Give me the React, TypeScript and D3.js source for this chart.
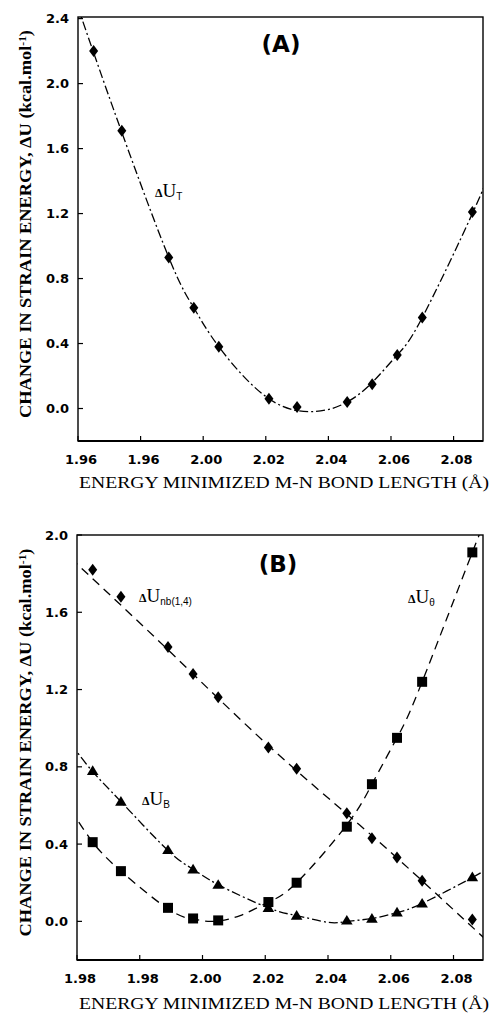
import React, { useEffect, useRef } from 'react';
import * as d3 from 'd3';

// bond lengths (Å) of the computed points, same in both panels
const bondLength = [1.965, 1.974, 1.989, 1.997, 2.005, 2.021, 2.030, 2.046, 2.054, 2.062, 2.070, 2.086];

// panel A - total strain energy
const uTotal = [2.20, 1.71, 0.93, 0.62, 0.38, 0.06, 0.01, 0.04, 0.15, 0.33, 0.56, 1.21];

// panel B - components
const uNonbonded = [1.82, 1.68, 1.42, 1.28, 1.16, 0.90, 0.79, 0.56, 0.43, 0.33, 0.21, 0.01];
const uTheta = [0.41, 0.26, 0.07, 0.015, 0.005, 0.10, 0.20, 0.49, 0.71, 0.95, 1.24, 1.91];
const uBond = [0.78, 0.62, 0.37, 0.27, 0.19, 0.07, 0.03, 0.005, 0.015, 0.047, 0.093, 0.23];

// fitted curves as drawn in the figure (nodes)
const fitTotalX = [1.958, 1.965, 1.974, 1.989, 1.997, 2.005, 2.021, 2.036, 2.046, 2.054, 2.062, 2.070, 2.086, 2.092];
const fitTotalY = [2.58, 2.19, 1.70, 0.93, 0.62, 0.38, 0.06, -0.018, 0.04, 0.16, 0.33, 0.56, 1.20, 1.48];
const fitNbX = [1.958, 1.990, 2.021, 2.050, 2.070, 2.092];
const fitNbY = [1.88, 1.39, 0.91, 0.50, 0.21, -0.12];
const fitThetaX = [1.958, 1.965, 1.974, 1.989, 1.997, 2.003, 2.012, 2.021, 2.030, 2.046, 2.054, 2.062, 2.070, 2.086, 2.092];
const fitThetaY = [0.58, 0.41, 0.26, 0.065, 0.012, 0.0, 0.03, 0.10, 0.20, 0.50, 0.71, 0.95, 1.24, 1.91, 2.15];
const fitBondX = [1.958, 1.965, 1.974, 1.989, 1.997, 2.005, 2.021, 2.030, 2.040, 2.046, 2.054, 2.062, 2.070, 2.086, 2.092];
const fitBondY = [0.92, 0.775, 0.62, 0.367, 0.27, 0.19, 0.07, 0.03, -0.005, 0.0, 0.015, 0.045, 0.093, 0.227, 0.285];

const xTicks = [1.96, 1.98, 2.0, 2.02, 2.04, 2.06, 2.08];
const xTickLabelsA = ['1.96', '1.96', '2.00', '2.02', '2.04', '2.06', '2.08'];
const xTickLabelsB = ['1.98', '1.98', '2.00', '2.02', '2.04', '2.06', '2.08'];
const yTicksA = [0.0, 0.4, 0.8, 1.2, 1.6, 2.0, 2.4];
const yTicksB = [0.0, 0.4, 0.8, 1.2, 1.6, 2.0];

const DIAMOND = 'M0,-6L4.5,0L0,6L-4.5,0Z';
const SQUARE = 'M-5,-5h10v10h-10Z';
const TRIANGLE = 'M0,-5.5L5.8,4.2L-5.8,4.2Z';
const DASHDOT = '9,3,2,3';
const DASHED = '9,6';

const tickFont = 'DejaVu Sans, Arial, sans-serif';
const serif = 'Liberation Serif, Times New Roman, serif';

function drawPanel(root, o) {
  const g = root.append('g');
  const x = d3.scaleLinear().domain([1.96, 2.0894]).range([o.left, o.right]);
  const y = d3.scaleLinear().domain(o.yDomain).range([o.bottom, o.top]);

  g.append('clipPath').attr('id', o.id).append('rect')
    .attr('x', o.left).attr('y', o.top)
    .attr('width', o.right - o.left).attr('height', o.bottom - o.top);

  // frame
  g.append('rect')
    .attr('x', o.left).attr('y', o.top)
    .attr('width', o.right - o.left).attr('height', o.bottom - o.top)
    .attr('fill', 'none').attr('stroke', '#000').attr('stroke-width', 1.4);
  g.append('line')
    .attr('x1', o.left).attr('x2', o.right).attr('y1', o.bottom).attr('y2', o.bottom)
    .attr('stroke', '#000').attr('stroke-width', 2.2);

  // x ticks (inward) + labels
  g.selectAll('.xt').data(xTicks).enter().append('line')
    .attr('x1', (d) => x(d)).attr('x2', (d) => x(d))
    .attr('y1', o.bottom).attr('y2', o.bottom - 5)
    .attr('stroke', '#000').attr('stroke-width', 1.2);
  g.selectAll('.xl').data(xTicks).enter().append('text')
    .attr('x', (d) => x(d) + 3).attr('y', o.bottom + 23)
    .attr('text-anchor', 'middle')
    .style('font-family', tickFont).style('font-weight', 'bold').style('font-size', '13px')
    .text((d, i) => o.xLabels[i]);

  // y ticks + labels
  g.selectAll('.yt').data(o.yTicks).enter().append('line')
    .attr('x1', o.left).attr('x2', o.left + 5)
    .attr('y1', (d) => y(d)).attr('y2', (d) => y(d))
    .attr('stroke', '#000').attr('stroke-width', 1.2);
  g.selectAll('.yl').data(o.yTicks).enter().append('text')
    .attr('x', o.left - 9).attr('y', (d) => y(d)).attr('dy', '0.36em')
    .attr('text-anchor', 'end')
    .style('font-family', tickFont).style('font-weight', 'bold').style('font-size', '13px')
    .text((d) => d.toFixed(1));

  // fitted curves
  const line = d3.line().x((d) => x(d[0])).y((d) => y(d[1])).curve(d3.curveNatural);
  o.curves.forEach((c) => {
    g.append('path')
      .datum(d3.zip(c.xs, c.ys))
      .attr('d', line)
      .attr('clip-path', `url(#${o.id})`)
      .attr('fill', 'none').attr('stroke', '#000').attr('stroke-width', 1.3)
      .attr('stroke-dasharray', c.dash);
  });

  // markers
  o.series.forEach((s) => {
    g.selectAll(null).data(d3.zip(bondLength, s.values)).enter().append('path')
      .attr('d', s.shape)
      .attr('transform', (d) => `translate(${x(d[0])},${y(d[1])})`)
      .attr('fill', '#000');
  });

  // panel letter
  g.append('text')
    .attr('x', o.letterX).attr('y', o.letterY).attr('text-anchor', 'middle')
    .style('font-family', tickFont).style('font-weight', 'bold').style('font-size', '23px')
    .text(o.letter);

  // series labels
  o.labels.forEach((l) => {
    const t = g.append('text').attr('x', l.x).attr('y', l.y).style('font-family', serif);
    t.append('tspan').style('font-size', '12px').style('font-weight', 'bold').text('Δ');
    t.append('tspan').style('font-size', '19px').text('U');
    t.append('tspan').attr('dy', 3).style('font-size', '10px').style('font-family', 'Liberation Sans, Arial, sans-serif').text(l.sub);
  });

  // axis titles
  g.append('text')
    .attr('transform', `translate(${o.yTitleX},${(o.top + o.bottom) / 2 - 5}) rotate(-90)`)
    .attr('text-anchor', 'middle')
    .attr('textLength', 388).attr('lengthAdjust', 'spacingAndGlyphs')
    .style('font-family', serif).style('font-weight', 'bold').style('font-size', '16px')
    .text('CHANGE IN STRAIN ENERGY, ΔU (kcal.mol')
    .append('tspan').attr('dy', -5).style('font-size', '10px').text('-1')
    .clone().attr('dy', 5).style('font-size', '16px').text(')');

  g.append('text')
    .attr('x', 79).attr('y', o.xTitleY)
    .attr('textLength', 410).attr('lengthAdjust', 'spacingAndGlyphs')
    .style('font-family', serif).style('font-size', '17px')
    .text('ENERGY MINIMIZED M-N BOND LENGTH (Å)');
}

const App = () => {
  const svgRef = useRef(null);

  useEffect(() => {
    const svg = d3.select(svgRef.current);
    svg.selectAll('*').remove();

    drawPanel(svg, {
      id: 'clipA', left: 78, right: 483, top: 17, bottom: 441,
      yDomain: [-0.2, 2.41], yTicks: yTicksA, xLabels: xTickLabelsA,
      curves: [{ xs: fitTotalX, ys: fitTotalY, dash: DASHDOT }],
      series: [{ values: uTotal, shape: DIAMOND }],
      letter: '(A)', letterX: 281, letterY: 52,
      labels: [{ x: 155, y: 197, sub: 'T' }],
      yTitleX: 31, xTitleY: 488,
    });

    drawPanel(svg, {
      id: 'clipB', left: 77, right: 483, top: 535, bottom: 960,
      yDomain: [-0.2, 2.0], yTicks: yTicksB, xLabels: xTickLabelsB,
      curves: [
        { xs: fitNbX, ys: fitNbY, dash: DASHED },
        { xs: fitThetaX, ys: fitThetaY, dash: DASHED },
        { xs: fitBondX, ys: fitBondY, dash: DASHDOT },
      ],
      series: [
        { values: uNonbonded, shape: DIAMOND },
        { values: uTheta, shape: SQUARE },
        { values: uBond, shape: TRIANGLE },
      ],
      letter: '(B)', letterX: 278, letterY: 572,
      labels: [
        { x: 139, y: 602, sub: 'nb(1,4)' },
        { x: 408, y: 603, sub: 'θ' },
        { x: 142, y: 805, sub: 'B' },
      ],
      yTitleX: 31, xTitleY: 1009,
    });
  }, []);

  return (
    <div style={{ position: 'absolute', left: 0, top: 0 }}>
      <svg ref={svgRef} width={491} height={1015} style={{ display: 'block', background: '#fff' }}></svg>
    </div>
  );
};

export default App;
